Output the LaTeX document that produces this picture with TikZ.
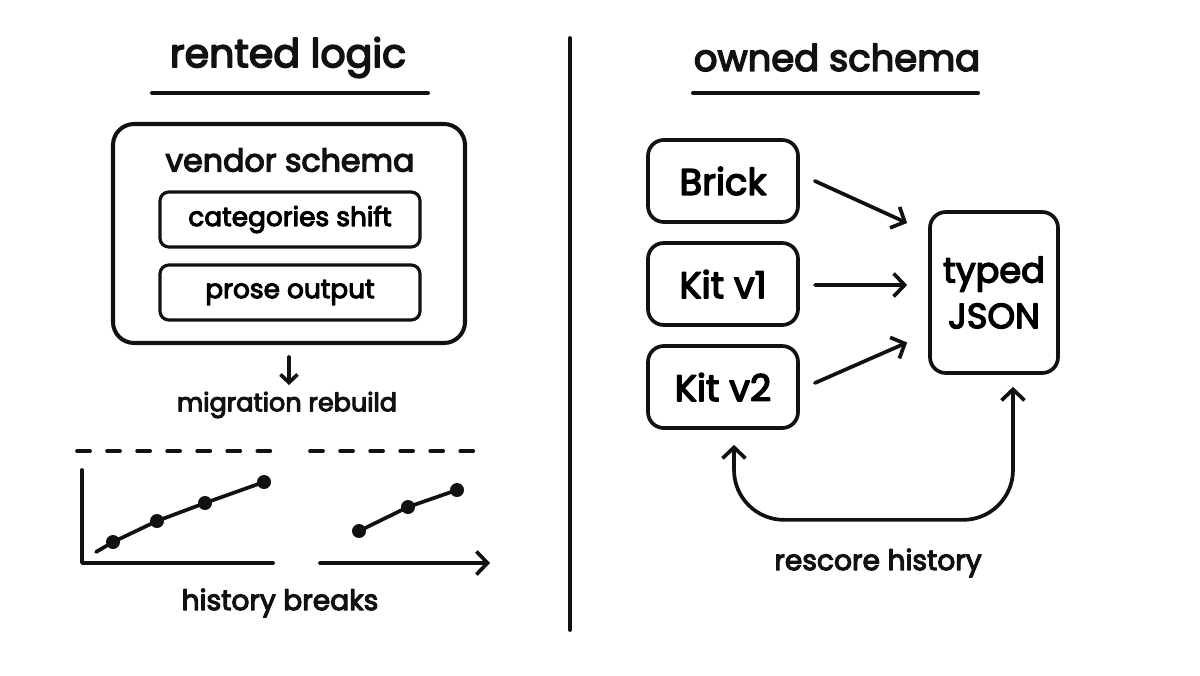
\documentclass[tikz,border=0pt]{standalone}
\usepackage{fontspec}
\setmainfont{Poppins}[FakeBold=4]
\usepackage{tikz}
\usetikzlibrary{arrows.meta,positioning,calc}
\definecolor{ink}{HTML}{111111}

\begin{document}
\begin{tikzpicture}[line cap=round,line join=round,
  box/.style={draw=ink,line width=2.1pt,rounded corners=9pt,align=center,
              minimum width=3cm,minimum height=1.64cm,font=\fontsize{21}{25}\selectfont},
  sub/.style={draw=ink,line width=1.8pt,rounded corners=5pt,minimum width=5.2cm,
              minimum height=1.1cm,font=\fontsize{15}{18}\selectfont},
  ttl/.style={font=\fontsize{21}{25}\selectfont,text=ink},
  lbl/.style={font=\fontsize{16}{19}\selectfont,text=ink},
  arr/.style={draw=ink,line width=2.1pt,-{Straight Barb[length=2.2mm,width=4.6mm,line width=2.1pt]}},
  dot/.style={circle,fill=ink,inner sep=0pt,minimum size=2.8mm},
  ln/.style={draw=ink,line width=2.1pt}]
  \useasboundingbox (0,0) rectangle (24,13.5);

  % left half: rented logic
  \node[ttl,font=\fontsize{22.5}{26}\selectfont] (rent) at (5.76,12.35) {rented logic};
  \draw[ln,line width=2.3pt] (3.04,11.64) -- (8.56,11.64);
  \node[box,line width=2.3pt,rounded corners=12pt,minimum width=7.04cm,minimum height=4.38cm]
    (vendor) at (5.78,8.83) {};
  \node[ttl,font=\fontsize{18}{22}\selectfont] (vtitle) at (5.8,10.3) {vendor schema};
  \node[sub] (cat) at (5.8,9.11) {categories shift};
  \node[sub] (prose) at (5.8,7.65) {prose output};
  \node[lbl,font=\fontsize{14.5}{18}\selectfont] (mig) at (5.74,5.4) {migration rebuild};
  \draw[arr,-{Straight Barb[length=1.6mm,width=3.4mm,line width=2.1pt]}]
    ([yshift=-2.4mm]vendor.south) -- ++(0,-0.56);

  % broken history chart
  \draw[ln,dash pattern=on 7.4pt off 9.7pt] (1.54,4.48) -- (5.44,4.48);
  \draw[ln,dash pattern=on 7.4pt off 9.7pt] (6.2,4.48) -- (9.7,4.48);
  \draw[ln] (1.64,4.1) -- (1.64,2.24) -- (5.46,2.24);
  \draw[arr] (6.4,2.24) -- (9.8,2.24);
  \coordinate (a0) at (1.92,2.46);
  \foreach \x/\y [count=\i] in {2.26/2.66, 3.14/3.08, 4.1/3.44, 5.28/3.86}
    \node[dot] (a\i) at (\x,\y) {};
  \draw[ln] (a0) -- (a1.center) -- (a2.center) -- (a3.center) -- (a4.center);
  \foreach \x/\y [count=\i] in {7.18/2.88, 8.16/3.36, 9.14/3.7}
    \node[dot] (b\i) at (\x,\y) {};
  \draw[ln] (b1.center) -- (b2.center) -- (b3.center);
  \node[lbl] (brk) at (5.6,1.44) {history breaks};

  % divider
  \draw[ln] (11.4,12.74) -- (11.4,0.9);

  % right half: owned schema
  \node[ttl] (own) at (16.74,12.35) {owned schema};
  \draw[ln,line width=2.3pt] (13.86,11.64) -- (19.56,11.64);
  \node[box] (brick) at (14.46,9.88) {Brick};
  \node[box] (kit1) at (14.46,7.82) {Kit v1};
  \node[box] (kit2) at (14.46,5.76) {Kit v2};
  \node[box,minimum width=2.56cm,minimum height=3.22cm,font=\fontsize{20}{26}\selectfont]
    (json) at (19.88,7.65) {typed\\JSON};
  \draw[arr] ([xshift=3mm]brick.east) -- ([xshift=-4.2mm,yshift=13.9mm]json.west);
  \draw[arr] ([xshift=3mm,yshift=-0.2mm]kit1.east) -- ([xshift=-4.2mm,yshift=1.5mm]json.west);
  \draw[arr] ([xshift=3mm,yshift=0.8mm]kit2.east) -- ([xshift=-4.2mm,yshift=-10mm]json.west);
  \draw[ln,{Straight Barb[length=2.2mm,width=4.6mm,line width=2.1pt]}-{Straight Barb[length=2.2mm,width=4.6mm,line width=2.1pt]},
        rounded corners=1cm]
    ([xshift=2.2mm,yshift=-3mm]kit2.south) -- ++(0,-1.5) -| ([xshift=3.8mm,yshift=-2.4mm]json.south);
  \node[lbl] (resc) at (17.56,2.24) {rescore history};
\end{tikzpicture}
\end{document}
